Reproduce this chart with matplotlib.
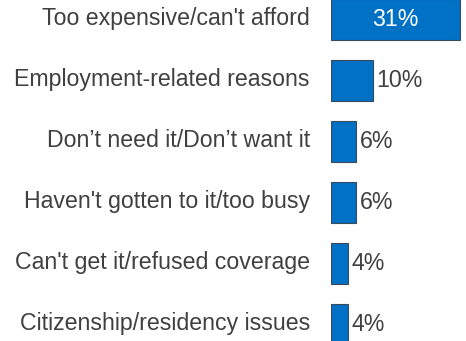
import matplotlib
matplotlib.use("Agg")
import matplotlib.pyplot as plt
from matplotlib.transforms import offset_copy

categories = [
    "Too expensive/can't afford",
    "Employment-related reasons",
    "Don\u2019t need it/Don\u2019t want it",
    "Haven't gotten to it/too busy",
    "Can't get it/refused coverage",
    "Citizenship/residency issues",
]
values = [31, 10, 6, 6, 4, 4]
labels = ["31%", "10%", "6%", "6%", "4%", "4%"]

W, H = 466, 341
DPI = 100
plt.rcParams['font.family'] = ['Liberation Sans', 'DejaVu Sans']

fig = plt.figure(figsize=(W / DPI, H / DPI), dpi=DPI)
fig.patch.set_facecolor("white")

# axes in pixel terms: bars start at x=331, 32 units over ~133 px
left_px, width_px = 331, 133.5
ax = fig.add_axes([left_px / W, 0, width_px / W, 1])
ax.set_xlim(0, 32)
step = 61.0
top_c = 19.5
ax.set_ylim((H - top_c) / step, -top_c / step)
ax.axis("off")

blue = "#0071C5"
text_col = "#404040"
y = list(range(len(categories)))
ax.barh(y, values, height=0.67, color=blue, edgecolor="#3a4a5a", linewidth=0.8)

fs = 16.7
for i, (cat, v, lab) in enumerate(zip(categories, values, labels)):
    # category label to the left of the bars
    tr = offset_copy(ax.transData, fig=fig, x=-21, y=1, units="dots")
    ax.text(0, i, cat, transform=tr, ha="right", va="center",
            fontsize=fs, color=text_col, clip_on=False)
    if v >= 20:
        ax.text(v / 2, i, lab, ha="center", va="center",
                fontsize=fs, color="white")
    else:
        tr2 = offset_copy(ax.transData, fig=fig, x=4, y=0, units="dots")
        ax.text(v, i, lab, transform=tr2, ha="left", va="center",
                fontsize=fs, color=text_col, clip_on=False)

fig.savefig("out.png", dpi=DPI)
